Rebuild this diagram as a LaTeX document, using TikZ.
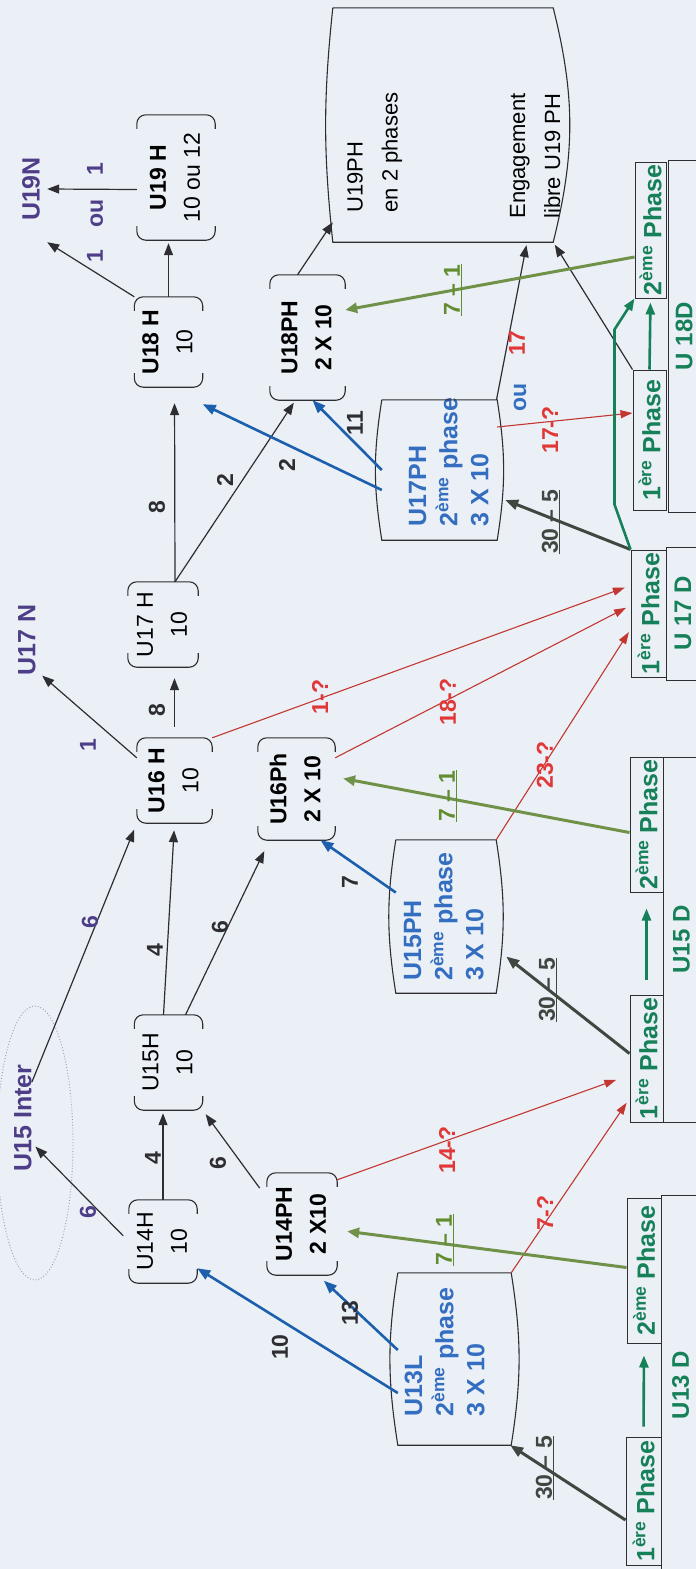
\documentclass[tikz,border=0pt]{standalone}
\usepackage{fontspec}
\setmainfont{Liberation Sans}
\usepackage{graphicx}
\usetikzlibrary{arrows.meta}

\definecolor{bgc}{RGB}{235,240,247}
\definecolor{ink}{RGB}{45,45,50}
\definecolor{purp}{RGB}{78,62,135}
\definecolor{bluetxt}{RGB}{52,110,192}
\definecolor{bline}{RGB}{28,95,172}
\definecolor{rline}{RGB}{195,55,50}
\definecolor{rtxt}{RGB}{225,55,55}
\definecolor{oline}{RGB}{112,145,72}
\definecolor{otxt}{RGB}{98,140,48}
\definecolor{dline}{RGB}{62,72,64}
\definecolor{phgreen}{RGB}{22,128,88}

\newcommand{\up}[1]{\rotatebox{90}{#1}}
\newcommand{\vtc}[1]{\rotatebox{90}{\begin{tabular}{@{}c@{}}#1\end{tabular}}}
\newcommand{\vtl}[1]{\rotatebox{90}{\begin{tabular}{@{}l@{}}#1\end{tabular}}}
\newcommand{\eme}{\textsuperscript{ème}}
\newcommand{\ere}{\textsuperscript{ère}}

\begin{document}
\begin{tikzpicture}[
		x=1pt, y=1pt,
		every node/.style={inner sep=0pt},
		brk/.style={font=\fontsize{23}{34}\selectfont},
		blu/.style={text=bluetxt, font=\fontsize{25}{31}\selectfont\bfseries},
		big/.style={font=\fontsize{22}{35}\selectfont},
		phase/.style={draw=ink, line width=1pt, text=phgreen, font=\fontsize{25}{30}\selectfont\bfseries},
		grp/.style={draw=ink, line width=1pt, text=phgreen, font=\fontsize{24}{30}\selectfont\bfseries},
		top/.style={text=purp, font=\fontsize{25}{30}\selectfont\bfseries},
		num/.style={text=ink, font=\fontsize{23}{28}\selectfont\bfseries},
		flow/.style={draw=ink, line width=1.2pt, -{Triangle[length=12pt,width=9pt]}},
		bflow/.style={draw=bline, line width=2.6pt, -{Triangle[length=13pt,width=10pt]}},
		rflow/.style={draw=rline, line width=1.1pt, -{Triangle[length=12pt,width=8pt]}},
		gflow/.style={draw=oline, line width=3pt, -{Triangle[length=12pt,width=10pt]}},
		dflow/.style={draw=dline, line width=3pt, -{Triangle[length=13pt,width=10pt]}},
		tflow/.style={draw=phgreen, line width=2.6pt, -{Triangle[length=12pt,width=9pt]}}
	]
  \useasboundingbox (0,0) rectangle (696,-1569);
  \fill[bgc] (0,0) rectangle (696,-1569);

  \node (u19n) [top, minimum width=32pt, minimum height=106pt] at (31,-189) {\up{U19N}};
  \node (u17n) [top, minimum width=30pt] at (27,-640) {\up{U17 N}};
  \node (u15inter) [top] at (23,-1118) {\up{U15 Inter}};
  \draw[dotted, line width=0.9pt, draw=purp!55] (35,-1143) ellipse [x radius=38, y radius=137];

  \node (u19h) [brk, minimum width=78pt, minimum height=125pt] at (176,-177.5) {\vtc{\textbf{U19 H}\\10 ou 12}};
  \node (u18h) [brk, minimum width=63pt, minimum height=90pt] at (168.5,-342) {\vtc{\textbf{U18 H}\\10}};
  \node (u17h) [brk, minimum width=70pt, minimum height=85pt] at (163,-624.5) {\vtc{U17 H\\10}};
  \node (u16h) [brk, minimum width=75pt, minimum height=85pt] at (174.5,-780.5) {\vtc{\textbf{U16 H}\\10}};
  \node (u15h) [brk, minimum width=67pt, minimum height=95pt] at (168.5,-1062.5) {\vtc{U15H\\10}};
  \node (u14h) [brk, minimum width=60pt, minimum height=83pt] at (163,-1241.5) {\vtc{U14H\\10}};
  \node (u18ph) [brk, minimum width=75pt, minimum height=125pt] at (307.5,-337.5) {\vtc{\textbf{U18PH}\\\textbf{2 X 10}}};
  \node (u16ph) [brk, minimum width=77pt, minimum height=102pt] at (296.5,-789) {\vtc{\textbf{U16Ph}\\\textbf{2 X 10}}};
  \node (u14ph) [brk, minimum width=70pt, minimum height=102pt] at (302,-1224) {\vtc{\textbf{U14PH}\\\textbf{2 X10}}};
  \foreach \n in {u19h,u18h,u17h,u16h,u15h,u14h,u18ph,u16ph,u14ph} {
    \draw[ink, line width=1.1pt, rounded corners=9pt] ([yshift=-14pt]\n.north west) -- (\n.north west) -- (\n.north east) -- ([yshift=-14pt]\n.north east);
    \draw[ink, line width=1.1pt, rounded corners=9pt] ([yshift=14pt]\n.south west) -- (\n.south west) -- (\n.south east) -- ([yshift=14pt]\n.south east);
  }

  \node (u19ph) [minimum width=220pt, minimum height=234pt,
    label={[xshift=-70pt, yshift=-27.5pt, big]center:\vtl{U19PH\\en 2 phases}},
    label={[xshift=92.5pt, yshift=-31pt, big]center:\vtl{Engagement\\libre U19 PH}}] at (443,-125) {};
  \node (u17ph) [minimum width=115pt, minimum height=140pt,
    label={[xshift=11.5pt, yshift=8pt, blu]center:\vtl{U17PH\\2\eme{} phase\\3 X 10}}] at (439.5,-470) {};
  \node (u15ph) [minimum width=100pt, minimum height=153pt,
    label={[blu]center:\vtl{U15PH\\2\eme{} phase\\3 X 10}}] at (446,-916.5) {};
  \node (u13l) [minimum width=113pt, minimum height=172pt,
    label={[xshift=-7.5pt, yshift=7pt, blu]center:\vtl{U13L\\2\eme{} phase\\3 X 10}}] at (454.5,-1359) {};
  \draw[ink, line width=1.1pt] (u19ph.north west) -- (u19ph.north east) to[bend left=14] (u19ph.south east) -- (u19ph.south west) to[bend left=6] (u19ph.north west);
  \foreach \n in {u17ph,u15ph,u13l} {
    \draw[ink, line width=1.1pt] (\n.north west) -- (\n.north east) to[bend left=9] (\n.south east) -- (\n.south west) to[bend left=9] (\n.north west);
  }

  \node (u18d) [grp, minimum width=32pt, minimum height=352pt] at (684,-336) {\up{U 18D}};
  \node (u17d) [grp, minimum width=34pt, minimum height=133pt] at (683,-613.5) {\up{U 17 D}};
  \node (u15d) [grp, minimum width=37pt, minimum height=365pt] at (681.5,-939.5) {\up{U15 D}};
  \node (u13d) [grp, minimum width=39pt, minimum height=380pt] at (680.5,-1385) {\up{U13 D}};
  \node (u18d2) [phase, minimum width=31pt, minimum height=136pt] at (650.5,-230) {\up{2\eme{} Phase}};
  \node (u18d1) [phase, minimum width=33pt, minimum height=140pt] at (649.5,-440) {\up{1\ere{} Phase}};
  \node (u17d1) [phase, minimum width=35pt, minimum height=127pt] at (648.5,-613.5) {\up{1\ere{} Phase}};
  \node (u15d2) [phase, minimum width=33pt, minimum height=135pt] at (646.5,-824.5) {\up{2\eme{} Phase}};
  \node (u15d1) [phase, minimum width=33pt, minimum height=127pt] at (646.5,-1058.5) {\up{1\ere{} Phase}};
  \node (u13d2) [phase, minimum width=34pt, minimum height=145pt] at (644,-1270.5) {\up{2\eme{} Phase}};
  \node (u13d1) [phase, minimum width=35pt, minimum height=128pt] at (643.5,-1501) {\up{1\ere{} Phase}};

  \draw[flow, shorten >=3pt] (u18h.north) -- (u18h.north |- u19h.south);
  \draw[flow] (u18h.north west) -- (u19n.south east);
  \draw[flow] ([yshift=-12pt]u19h.west) -- (u19n.east);
  \draw[flow, shorten >=16pt] ([xshift=12pt]u17h.north) -- ([xshift=6pt]u18h.south);
  \draw[flow, shorten >=3pt] ([xshift=12pt]u17h.north) -- ([xshift=-12pt]u18ph.south);
  \draw[flow, shorten <=11pt, shorten >=11pt] (u16h.north) -- (u16h.north |- u17h.south);
  \draw[flow] ([yshift=-20pt]u16h.north west) -- (u17n.south east);
  \draw[flow, shorten >=7pt] ([xshift=-5pt]u15h.north) -- (u16h.south);
  \draw[flow, shorten >=12pt] ([xshift=17pt]u15h.north) -- ([xshift=-27pt]u16ph.south);
  \draw[flow, shorten >=7pt] ([yshift=36pt]u15inter.east) -- (u16h.south west);
  \draw[flow, shorten >=3pt] (u14h.north) -- (u14h.north |- u15h.south);
  \draw[flow, shorten <=12pt, shorten >=5pt] ([yshift=-25pt]u14ph.north west) -- (u15h.south east);
  \draw[flow, shorten <=8pt, shorten >=5pt] (u14h.west) -- ([yshift=-25pt]u15inter.east);
  \draw[flow] ([xshift=-10pt]u18ph.north) -- ([yshift=20pt]u19ph.south west);
  \draw[flow, shorten >=3pt] ([xshift=57pt]u17ph.north) -- ([xshift=84pt]u19ph.south);
  \draw[flow, shorten >=3pt] (u18d1.north west) -- (u19ph.south east);

  \draw[bflow] ([yshift=-20pt]u17ph.west) -- ([yshift=-17pt]u18h.south east);
  \draw[bflow] (u17ph.west) -- ([xshift=5pt]u18ph.south);
  \draw[bflow] ([yshift=24pt]u15ph.west) -- ([xshift=24pt]u16ph.south);
  \draw[bflow] ([yshift=-34pt]u13l.west) -- ([yshift=15pt]u14h.south east);
  \draw[bflow, shorten >=8pt] ([yshift=9pt]u13l.west) -- ([xshift=16pt]u14ph.south);

  \draw[rflow, shorten >=6pt] (u16h.north east) -- ([yshift=28pt]u17d1.west);
  \draw[rflow, shorten >=5pt] ([yshift=-20pt]u16ph.north east) -- ([yshift=8pt]u17d1.west);
  \draw[rflow, shorten >=3pt] (u15ph.north east) -- ([yshift=-16pt]u17d1.west);
  \draw[rflow] ([yshift=43pt]u17ph.east) -- ([yshift=27pt]u18d1.west);
  \draw[rflow, shorten >=14pt] ([yshift=-7pt]u14ph.north east) -- ([yshift=-16.5pt]u15d1.west);
  \draw[rflow, shorten >=5pt] (u13l.north east) -- ([yshift=-40pt]u15d1.west);

  \draw[gflow] ([yshift=-27pt]u18d2.west) -- ([yshift=27.5pt]u18ph.east);
  \draw[gflow, shorten >=8pt] ([yshift=-8pt]u15d2.west) -- ([yshift=12pt]u16ph.east);
  \draw[gflow, shorten >=10pt] ([yshift=3pt]u13d2.west) -- ([yshift=-6pt]u14ph.east);

  \draw[dflow] ([yshift=-19pt]u13d1.west) -- ([xshift=-1pt]u13l.south east);
  \draw[dflow] ([yshift=5pt]u15d1.west) -- ([xshift=10pt,yshift=-40pt]u15ph.east);
  \draw[dflow] (u17d1.north west) -- ([xshift=8pt,yshift=-30pt]u17ph.east);

  \draw[tflow, shorten <=10pt, shorten >=12pt] (u13d1.north) -- (u13d2.south);
  \draw[tflow, shorten <=15pt, shorten >=16pt] (u15d1.north) -- (u15d2.south);
  \draw[tflow, shorten >=4pt] (u18d1.north) -- (u18d2.south);
  \draw[tflow] (u17d1.north west) -- ++(-16,45) -- ++(0,175) -- (u18d2.south west);

  \node (u19n_l) [num, text=purp] at (95,-213) {\up{1\quad ou\quad 1}};
  \node (u17n_l) [num, text=purp] at (88,-745) {\up{1}};
  \node (u17h_l) [num] at (157,-710) {\up{8}};
  \node (u18h_l) [num] at (157,-507) {\up{8}};
  \node (u18ph_l) [num] at (225,-480) {\up{2}};
  \node (u17ph_l) [num] at (287,-465) {\up{2}};
  \node (u17ph_m) [num] at (355,-423) {\up{11}};
  \node (u15i_l) [num, text=purp] at (90,-922) {\up{6}};
  \node (u15h_l) [num] at (155,-950) {\up{4}};
  \node (u15h_m) [num] at (220,-927) {\up{6}};
  \node (u15ph_l) [num] at (350,-882) {\up{7}};
  \node (u14h_l) [num] at (153,-1158) {\up{4}};
  \node (u14ph_l) [num] at (218,-1163) {\up{6}};
  \node (u14h_m) [num, text=purp] at (88,-1212) {\up{6}};
  \node (u13l_l) [num] at (280,-1347) {\up{10}};
  \node (u13l_m) [num] at (350,-1313) {\up{13}};
  \node (u17ph_n) [num, text=rtxt] at (517,-343) {\up{17}};
  \node (u17ph_ou) [num, text=bluetxt] at (520,-397) {\up{ou}};

  \node (r_u16h) [num, text=rtxt] at (320,-697) {\up{1-?}};
  \node (r_u16ph) [num, text=rtxt] at (448,-702) {\up{18-?}};
  \node (r_u15ph) [num, text=rtxt] at (545,-765) {\up{23-?}};
  \node (r_u17ph) [num, text=rtxt] at (550,-430) {\up{17-?}};
  \node (r_u14ph) [num, text=rtxt] at (447,-1150) {\up{14-?}};
  \node (r_u13l) [num, text=rtxt] at (545,-1213) {\up{7-?}};

  \node (g_u18ph) [num, text=otxt] at (453,-290) {\up{\underline{7 – 1}}};
  \node (g_u16ph) [num, text=otxt] at (448,-796) {\up{\underline{7 – 1}}};
  \node (g_u14ph) [num, text=otxt] at (445,-1240) {\up{\underline{7 – 1}}};
  \node (d_u13l) [num, text=dline] at (545,-1468) {\up{\underline{30 – 5}}};
  \node (d_u15ph) [num, text=dline] at (548,-990) {\up{\underline{30 – 5}}};
  \node (d_u17ph) [num, text=dline] at (551,-522) {\up{\underline{30 – 5}}};
\end{tikzpicture}
\end{document}
